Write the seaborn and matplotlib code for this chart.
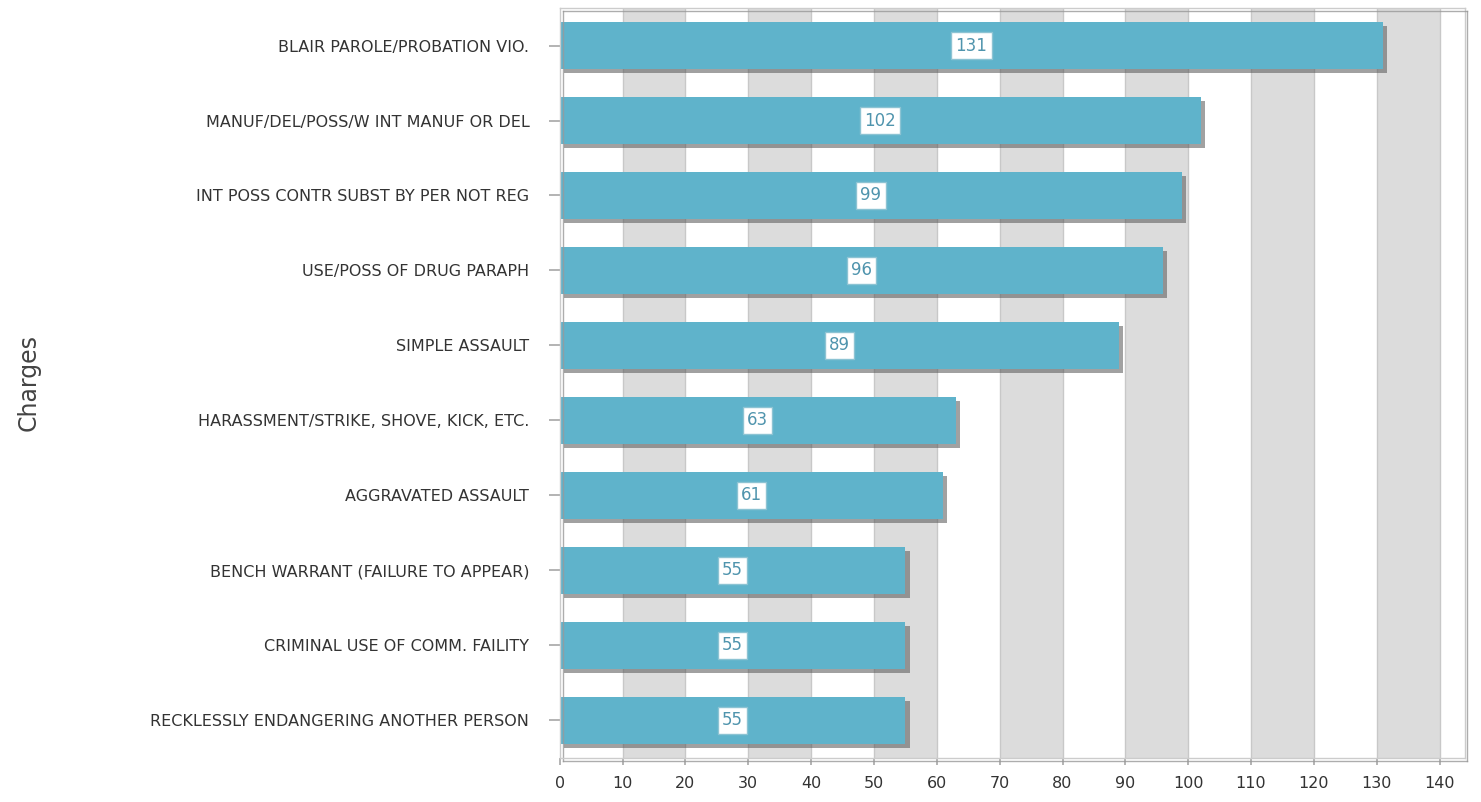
import pandas as pd
import seaborn as sns
import matplotlib.pyplot as plt
import matplotlib.patheffects as pe

# --- data ---
charges = [
    'BLAIR PAROLE/PROBATION VIO.',
    'MANUF/DEL/POSS/W INT MANUF OR DEL',
    'INT POSS CONTR SUBST BY PER NOT REG',
    'USE/POSS OF DRUG PARAPH',
    'SIMPLE ASSAULT',
    'HARASSMENT/STRIKE, SHOVE, KICK, ETC.',
    'AGGRAVATED ASSAULT',
    'BENCH WARRANT (FAILURE TO APPEAR)',
    'CRIMINAL USE OF COMM. FAILITY',
    'RECKLESSLY ENDANGERING ANOTHER PERSON',
]
counts = [131, 102, 99, 96, 89, 63, 61, 55, 55, 55]
x_ticks = list(range(0, 141, 10))

df = pd.DataFrame({'charge': charges, 'count': counts})

sns.set_theme(style='white')
plt.rcParams['font.family'] = ['DejaVu Sans']

fig = plt.figure(figsize=(14.81, 8.02), dpi=100)
ax = fig.add_axes([0.378, 0.055, 0.611, 0.935])

# alternating grey bands
for lo in range(10, 141, 20):
    ax.axvspan(lo, lo + 10, color='#dcdcdc', zorder=0, lw=0)
for t in x_ticks[1:]:
    ax.axvline(t, color='#c8c8c8', lw=1, zorder=0.5)

sns.barplot(data=df, x='count', y='charge', color='#5fb3cb', saturation=1,
            width=0.63, linewidth=0, ax=ax, zorder=2)

# drop shadow on bars only
for p in ax.containers[0]:
    p.set_path_effects([pe.SimplePatchShadow(offset=(3, -3), shadow_rgbFace='#555555', alpha=0.55),
                        pe.Normal()])

for i, v in enumerate(counts):
    ax.text(v / 2, i, str(v), ha='center', va='center', fontsize=12, color='#4f94ad', zorder=5,
            bbox=dict(boxstyle='square,pad=0.25', fc='white', ec='#8cc3d3', lw=1))

ax.set_xlim(0, 144)
ax.set_ylim(len(charges) - 0.5, -0.5)
ax.set_xticks(x_ticks)
ax.tick_params(axis='x', labelsize=11.5, labelcolor='#333333', length=5, color='#aaaaaa',
               bottom=True, pad=8)
ax.tick_params(axis='y', labelsize=11.5, labelcolor='#333333', length=8, color='#aaaaaa',
               left=True, pad=14)
ax.set_xlabel('')
ax.set_ylabel('Charges', fontsize=17, color='#444444')
ax.yaxis.set_label_coords(-0.574, 0.5)

for s in ax.spines.values():
    s.set_color('#cccccc')
    s.set_linewidth(1)
    s.set_path_effects([pe.SimpleLineShadow(offset=(2, -2), shadow_color='#999999', alpha=0.8),
                        pe.Normal()])

plt.savefig('out.png', dpi=100)
